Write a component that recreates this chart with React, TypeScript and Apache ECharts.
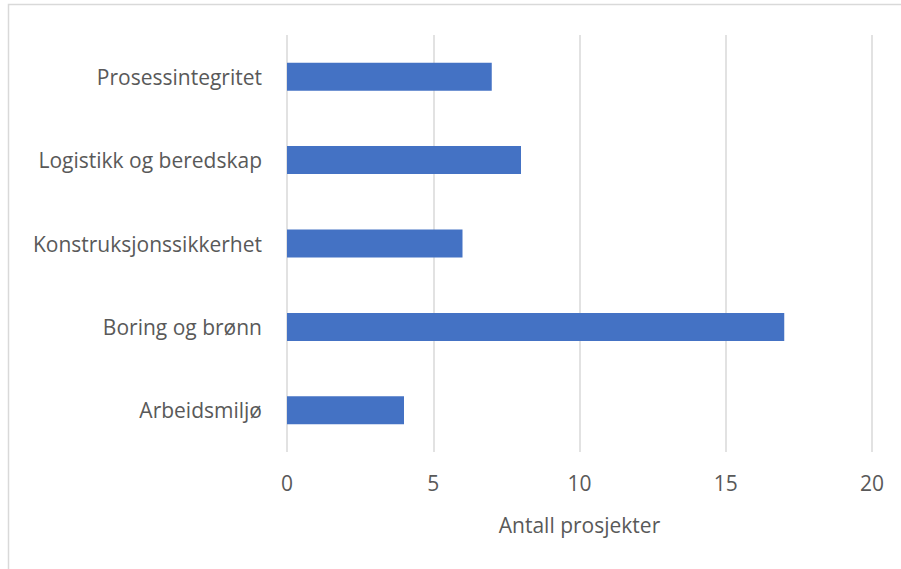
import React, { useEffect, useRef } from "react";
import * as echarts from "echarts";

const categories = [
  "Arbeidsmiljø",
  "Boring og brønn",
  "Konstruksjonssikkerhet",
  "Logistikk og beredskap",
  "Prosessintegritet",
];
const values = [4, 17, 6, 8, 7];
const xAxisName = "Antall prosjekter";

export default function App() {
  const ref = useRef<HTMLDivElement>(null);
  useEffect(() => {
    if (!ref.current) return;
    const chart = echarts.init(ref.current, undefined, { renderer: "svg" });
    const font = "'Open Sans', sans-serif";
    chart.setOption({
      animation: false,
      backgroundColor: "#ffffff",
      graphic: [
        {
          type: "rect",
          shape: { x: 8.5, y: 4.5, width: 900, height: 620 },
          style: { fill: "none", stroke: "#d9d9d9", lineWidth: 1.5 },
          silent: true,
        },
      ],
      grid: { left: 287, right: 29, top: 35, bottom: 117 },
      xAxis: {
        type: "value",
        min: 0,
        max: 20,
        interval: 5,
        name: xAxisName,
        nameLocation: "middle",
        nameGap: 62,
        nameTextStyle: { color: "#595959", fontSize: 21, fontFamily: font },
        axisLine: { show: false },
        axisTick: { show: false },
        axisLabel: { color: "#595959", fontSize: 21, fontFamily: font, margin: 20 },
        splitLine: { lineStyle: { color: "#d9d9d9", width: 1.5 } },
      },
      yAxis: {
        type: "category",
        data: categories,
        axisLine: { show: false },
        axisTick: { show: false },
        axisLabel: { color: "#595959", fontSize: 21, fontFamily: font, margin: 25 },
      },
      series: [
        {
          type: "bar",
          data: values,
          barWidth: 28,
          itemStyle: { color: "#4472C4" },
        },
      ],
    });
    return () => chart.dispose();
  }, []);
  return (
    <div
      ref={ref}
      style={{ position: "fixed", left: 0, top: 0, width: 901, height: 569, background: "#fff" }}
    />
  );
}
